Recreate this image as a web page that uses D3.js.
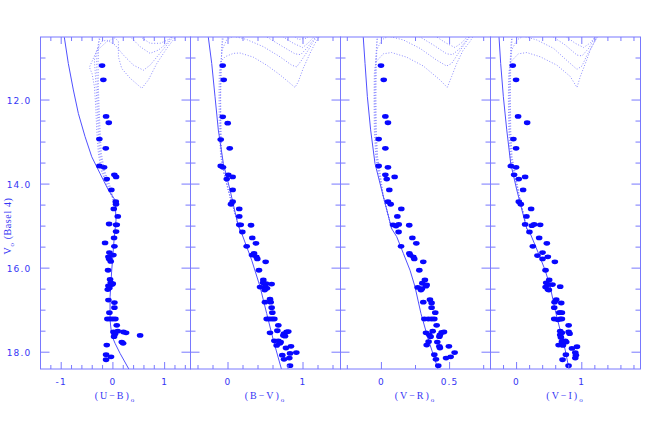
<!DOCTYPE html>
<html>
<head>
<meta charset="utf-8">
<script src="https://cdn.jsdelivr.net/npm/d3@7"></script>
<style>
  body { margin: 0; background: #fff; }
</style>
</head>
<body>
<div class="canva"></div>
<script>
// V magnitude axis, shared by all four panels
const vDomain = [10.5, 18.4];
const vLabels = [12, 14, 16, 18];

// colour index axes, one per panel
const colorNames = ["U\u2212B", "B\u2212V", "V\u2212R", "V\u2212I"];
const colorDomains = [[-1.4, 1.5], [-0.5, 1.5], [-0.3, 0.8], [-0.4, 1.9]];
const colorLabels = [[-1, 0, 1], [0, 1], [0, 0.5], [0, 1]];
const colorMinor = [0.2, 0.2, 0.25, 0.2];

// stars: [V, colour]
const starsUB = [
  [11.18,-0.21],[11.52,-0.185],[12.39,-0.132],[12.54,-0.08],[12.93,-0.262],[13.15,-0.138],[13.57,-0.262],[13.60,-0.171],
  [13.78,0.028],[13.83,0.061],[13.88,-0.119],[14.14,-0.03],[14.42,0.055],[14.48,0.06],[14.59,0.017],[14.77,0.094],
  [14.95,-0.074],[14.97,0.06],[14.97,0.075],[15.13,0.061],[15.28,0.022],[15.40,-0.152],[15.48,0.029],[15.63,-0.068],
  [15.69,0.01],[15.73,-0.087],[15.78,-0.074],[15.84,-0.042],[16.05,-0.094],[16.27,-0.055],[16.35,-0.042],[16.37,-0.003],
  [16.39,-0.016],[16.42,-0.087],[16.47,-0.068],[16.51,-0.1],[16.76,-0.087],[16.82,0.029],[16.94,0.029],[17.06,-0.068],
  [17.21,-0.107],[17.21,-0.055],[17.21,-0.003],[17.21,0.048],[17.36,0.074],[17.52,0.01],[17.50,0.093],[17.52,0.203],
  [17.54,0.255],[17.63,0.022],[17.57,0.042],[17.60,0.526],[17.76,0.171],[17.79,0.197],[17.83,-0.119],[18.06,-0.132],
  [18.11,-0.036],[18.18,-0.132]
];
const starsBV = [
  [11.18,-0.071],[11.52,-0.057],[12.40,-0.07],[12.55,-0.004],[12.94,-0.097],[13.15,0.023],[13.57,-0.097],[13.60,-0.067],
  [13.78,0.004],[13.83,0.062],[13.88,-0.017],[14.14,0.062],[14.42,0.062],[14.48,0.04],[14.59,0.15],[14.77,0.15],
  [14.97,0.15],[14.97,0.17],[14.98,0.307],[15.14,0.191],[15.28,0.324],[15.41,0.373],[15.48,0.249],[15.65,0.347],
  [15.69,0.32],[15.73,0.378],[15.78,0.391],[15.85,0.502],[16.05,0.413],[16.28,0.471],[16.35,0.467],[16.37,0.507],
  [16.38,0.582],[16.44,0.498],[16.45,0.427],[16.48,0.52],[16.52,0.489],[16.74,0.56],[16.81,0.493],[16.81,0.569],
  [16.94,0.582],[17.06,0.591],[17.21,0.516],[17.21,0.551],[17.21,0.587],[17.21,0.618],[17.36,0.671],[17.49,0.658],
  [17.54,0.56],[17.52,0.782],[17.51,0.804],[17.56,0.747],[17.60,0.738],[17.62,0.76],[17.73,0.618],[17.73,0.671],
  [17.76,0.702],[17.79,0.693],[17.84,0.649],[17.86,0.84],[17.90,0.773],[18.01,0.911],[18.03,0.827],[18.07,0.724],
  [18.14,0.818],[18.17,0.747],[18.32,0.827]
];
const starsVR = [
  [11.18,-0.003],[11.52,0.017],[12.39,0.029],[12.54,0.048],[12.93,-0.02],[13.15,0.029],[13.57,-0.02],[13.60,0.048],
  [13.78,0.029],[13.83,0.097],[13.88,0.039],[14.14,0.058],[14.42,0.048],[14.48,0.068],[14.59,0.146],[14.77,0.117],
  [14.97,0.085],[15.00,0.107],[14.96,0.127],[14.98,0.204],[15.14,0.126],[15.28,0.227],[15.41,0.256],[15.48,0.144],
  [15.65,0.205],[15.69,0.21],[15.73,0.234],[15.78,0.241],[15.85,0.307],[16.05,0.278],[16.28,0.319],[16.36,0.30],
  [16.40,0.332],[16.43,0.327],[16.46,0.266],[16.49,0.297],[16.52,0.29],[16.75,0.356],[16.81,0.307],[16.83,0.368],
  [16.94,0.368],[17.06,0.395],[17.21,0.315],[17.21,0.344],[17.21,0.368],[17.21,0.388],[17.36,0.405],[17.50,0.376],
  [17.54,0.327],[17.59,0.351],[17.63,0.361],[17.53,0.442],[17.52,0.459],[17.59,0.429],[17.63,0.425],[17.75,0.346],
  [17.83,0.332],[17.76,0.41],[17.86,0.425],[17.90,0.429],[17.86,0.495],[18.01,0.537],[18.11,0.508],[18.14,0.474],
  [18.06,0.388],[18.17,0.40],[18.32,0.417]
];
const starsVI = [
  [11.18,-0.059],[11.52,-0.008],[12.39,0.023],[12.54,0.162],[12.93,-0.049],[13.15,-0.008],[13.57,-0.09],[13.60,-0.008],
  [13.78,-0.038],[13.83,0.131],[13.88,0.034],[14.14,0.10],[14.42,0.034],[14.48,0.065],[14.59,0.223],[14.77,0.151],
  [14.96,0.131],[14.99,0.234],[14.96,0.269],[14.97,0.362],[15.14,0.197],[15.28,0.346],[15.41,0.464],[15.48,0.249],
  [15.63,0.398],[15.70,0.32],[15.73,0.479],[15.78,0.398],[15.85,0.587],[16.05,0.444],[16.28,0.50],[16.35,0.454],
  [16.39,0.551],[16.39,0.495],[16.44,0.669],[16.45,0.444],[16.51,0.48],[16.52,0.495],[16.75,0.608],[16.81,0.582],
  [16.83,0.685],[16.94,0.577],[17.06,0.654],[17.06,0.695],[17.06,0.669],[17.21,0.577],[17.23,0.633],[17.21,0.669],
  [17.21,0.695],[17.36,0.798],[17.50,0.669],[17.52,0.798],[17.56,0.813],[17.54,0.695],[17.59,0.669],[17.65,0.68],
  [17.73,0.746],[17.76,0.762],[17.75,0.695],[17.83,0.644],[17.84,0.71],[17.87,0.926],[17.91,0.849],[18.01,0.90],
  [18.06,0.756],[18.07,0.91],[18.14,0.90],[18.18,0.705],[18.32,0.797]
];

// solid sequence line: [V, colour]
const zamsUB = [[10.4,-0.97],[10.51,-0.939],[11.13,-0.862],[11.76,-0.765],[12.32,-0.668],[12.87,-0.539],[13.35,-0.409],
  [13.75,-0.248],[14.14,-0.088],[14.38,0.042],[14.86,0.06],[15.33,0.022],[16.05,-0.023],[16.68,-0.055],[17.24,-0.055],
  [17.6,-0.023],[17.79,0.042],[18.03,0.139],[18.45,0.33]];
const zamsBV = [[10.4,-0.27],[10.51,-0.262],[11.13,-0.217],[11.92,-0.173],[12.71,-0.129],[13.51,-0.062],[14.14,0.027],
  [15.0,0.137],[15.17,0.182],[15.81,0.316],[16.44,0.427],[17.08,0.516],[17.71,0.604],[18.45,0.72]];
const zamsVR = [[10.4,-0.136],[10.51,-0.133],[11.13,-0.12],[11.92,-0.103],[12.71,-0.079],[13.51,-0.047],[14.14,0.002],
  [15.06,0.075],[15.25,0.112],[15.65,0.161],[16.05,0.21],[16.44,0.246],[17.08,0.29],[17.71,0.345],[18.45,0.42]];
const zamsVI = [[10.4,-0.275],[10.51,-0.269],[11.13,-0.244],[11.92,-0.203],[12.71,-0.151],[13.51,-0.09],[14.14,0.003],
  [15.06,0.156],[15.17,0.208],[15.65,0.336],[16.05,0.438],[16.44,0.515],[17.0,0.592],[17.48,0.669],[17.95,0.746],[18.45,0.81]];

// dotted isochrones: [V, colour]
const isoUB = [
  [[14.38,0.01],[14.06,-0.107],[13.67,-0.229],[13.27,-0.281],[12.71,-0.313],[12.16,-0.332],[11.68,-0.358],[11.37,-0.403],
   [11.22,-0.455],[10.83,-0.313],[10.61,-0.119],[10.52,0.042],[10.61,0.106],[10.97,0.106],[11.25,0.171],[11.48,0.332],
   [11.72,0.558],[11.52,0.687],[11.13,0.848],[10.77,1.042],[10.51,1.203],[10.37,1.268]],
  [[14.38,0.01],[14.06,-0.087],[13.67,-0.21],[13.27,-0.261],[12.71,-0.287],[12.16,-0.307],[11.68,-0.326],[11.29,-0.345],
   [11.05,-0.358],[10.81,-0.313],[10.61,-0.216],[10.57,-0.119],[10.69,0.042],[10.93,0.203],[11.17,0.397],[11.29,0.59],
   [11.17,0.719],[10.93,0.881],[10.69,1.042],[10.49,1.171]],
  [[14.38,0.01],[14.06,-0.068],[13.67,-0.184],[13.27,-0.242],[12.71,-0.268],[12.16,-0.287],[11.68,-0.30],[11.29,-0.313],
   [10.97,-0.313],[10.65,-0.281],[10.41,-0.216],[10.02,-0.119],[10.02,0.203],[10.49,0.332],[10.73,0.526],[10.89,0.719],
   [10.81,0.881],[10.65,1.042],[10.45,1.171]],
  [[14.38,0.01],[14.06,-0.049],[13.67,-0.165],[13.27,-0.223],[12.71,-0.249],[12.16,-0.268],[11.68,-0.281],[11.13,-0.287],
   [10.65,-0.274],[10.33,-0.249],[9.86,-0.184],[9.86,0.332],[10.49,0.526],[10.65,0.719],[10.65,0.913],[10.56,1.074],[10.41,1.203]]
];
const isoBV = [
  [[15.1,0.16],[14.30,0.027],[13.73,-0.053],[13.34,-0.098],[12.71,-0.116],[11.92,-0.12],[11.37,-0.116],[11.09,-0.098],
   [10.97,-0.04],[10.89,0.071],[10.88,0.16],[10.98,0.338],[11.17,0.516],[11.40,0.693],[11.60,0.827],[11.70,0.893],
   [11.56,0.938],[11.24,1.004],[10.89,1.093],[10.65,1.16],[10.49,1.218],[10.3,1.28]],
  [[15.1,0.16],[14.30,0.027],[13.75,-0.053],[13.35,-0.093],[12.71,-0.102],[11.92,-0.107],[11.29,-0.102],[10.81,-0.08],
   [10.57,-0.018],[10.48,0.071],[10.56,0.249],[10.73,0.471],[10.97,0.693],[11.17,0.849],[11.21,0.916],[11.05,0.982],
   [10.81,1.071],[10.61,1.138],[10.48,1.191]],
  [[15.1,0.16],[14.30,0.027],[13.75,-0.053],[13.35,-0.089],[12.71,-0.098],[11.92,-0.102],[11.13,-0.093],[10.65,-0.076],
   [10.33,-0.044],[9.86,0.027],[10.02,0.293],[10.45,0.471],[10.69,0.693],[10.90,0.893],[10.92,0.969],[10.77,1.049],
   [10.57,1.138],[10.41,1.204]],
  [[15.1,0.16],[14.30,0.027],[13.75,-0.05],[13.35,-0.084],[12.71,-0.093],[11.92,-0.098],[11.13,-0.089],[10.65,-0.08],
   [10.33,-0.071],[9.86,-0.04],[9.86,0.471],[10.45,0.693],[10.65,0.871],[10.75,0.996],[10.64,1.071],[10.51,1.138],[10.37,1.191]],
  [[10.1,0.693],[10.41,0.827],[10.56,0.938],[10.53,1.04],[10.43,1.116],[10.25,1.16]]
];
const isoVR = [
  [[15.06,0.075],[14.3,0.014],[13.75,-0.023],[13.35,-0.042],[12.71,-0.052],[11.92,-0.054],[11.37,-0.052],[11.09,-0.04],
   [10.9,0.014],[10.87,0.075],[10.98,0.185],[11.19,0.307],[11.52,0.429],[11.70,0.483],[11.44,0.515],[11.13,0.552],
   [10.81,0.60],[10.61,0.649],[10.45,0.679]],
  [[15.06,0.075],[14.3,0.014],[13.75,-0.018],[13.35,-0.037],[12.71,-0.047],[11.92,-0.05],[11.29,-0.047],[10.81,-0.035],
   [10.57,0.002],[10.48,0.05],[10.57,0.161],[10.77,0.283],[11.05,0.405],[11.19,0.478],[11.13,0.515],[10.89,0.564],
   [10.65,0.613],[10.49,0.649]],
  [[15.06,0.075],[14.3,0.014],[13.75,-0.013],[13.35,-0.032],[12.71,-0.042],[11.92,-0.045],[11.13,-0.042],[10.65,-0.035],
   [10.33,-0.023],[9.86,0.014],[10.02,0.185],[10.45,0.258],[10.69,0.381],[10.90,0.478],[10.92,0.522],[10.77,0.576],
   [10.57,0.625],[10.41,0.662]],
  [[15.06,0.075],[14.3,0.014],[13.75,-0.008],[13.35,-0.028],[12.71,-0.037],[11.92,-0.04],[11.13,-0.037],[10.65,-0.032],
   [10.33,-0.028],[9.86,-0.01],[9.86,0.258],[10.45,0.381],[10.65,0.478],[10.75,0.539],[10.64,0.588],[10.51,0.625],[10.37,0.662]]
];
const isoVI = [
  [[15.06,0.156],[14.3,0.044],[13.75,-0.049],[13.35,-0.10],[12.71,-0.12],[11.92,-0.126],[11.37,-0.12],[11.09,-0.09],
   [10.9,0.028],[10.87,0.156],[10.97,0.362],[11.17,0.618],[11.44,0.823],[11.70,0.926],[11.44,0.977],[11.13,1.054],
   [10.81,1.131],[10.57,1.208],[10.45,1.259]],
  [[15.06,0.156],[14.3,0.044],[13.75,-0.038],[13.35,-0.09],[12.71,-0.11],[11.92,-0.115],[11.29,-0.11],[10.81,-0.074],
   [10.57,0.003],[10.48,0.105],[10.57,0.31],[10.77,0.567],[11.06,0.772],[11.27,0.926],[11.19,1.003],[10.93,1.08],
   [10.65,1.182],[10.49,1.244]],
  [[15.06,0.156],[14.3,0.044],[13.75,-0.028],[13.35,-0.079],[12.71,-0.10],[11.92,-0.105],[11.13,-0.10],[10.65,-0.085],
   [10.33,-0.059],[9.86,0.003],[10.02,0.362],[10.45,0.515],[10.69,0.746],[10.93,0.926],[10.95,1.003],[10.77,1.105],
   [10.57,1.182],[10.41,1.233]],
  [[15.06,0.156],[14.3,0.044],[13.75,-0.018],[13.35,-0.069],[12.71,-0.09],[11.92,-0.095],[11.13,-0.09],[10.65,-0.074],
   [10.33,-0.059],[9.86,-0.023],[9.86,0.464],[10.45,0.721],[10.65,0.90],[10.75,1.028],[10.64,1.131],[10.49,1.208],[10.37,1.259]]
];

const panels = [
  {stars: starsUB, zams: zamsUB, iso: isoUB},
  {stars: starsBV, zams: zamsBV, iso: isoBV},
  {stars: starsVR, zams: zamsVR, iso: isoVR},
  {stars: starsVI, zams: zamsVI, iso: isoVI}
];

// layout
const margin = {top: 37, left: 40.5};
const panelW = 150, panelH = 332;
const axisColor = "#7878ff", textColor = "#3535f5";

const svg = d3.select(".canva").append("svg")
    .attr("width", 654)
    .attr("height", 436)
    .style("background", "#fff");

var y = d3.scaleLinear()
    .domain(vDomain)
    .range([margin.top, margin.top + panelH]);

panels.forEach((p, i) => {
  const x0 = margin.left + i * panelW;
  var x = d3.scaleLinear()
      .domain(colorDomains[i])
      .range([x0, x0 + panelW]);

  svg.append("clipPath").attr("id", "clip" + i)
    .append("rect")
      .attr("x", x0).attr("y", margin.top)
      .attr("width", panelW).attr("height", panelH);

  const plot = svg.append("g").attr("clip-path", `url(#clip${i})`);
  var line = d3.line().x(d => x(d[1])).y(d => y(d[0]));

  // dotted isochrones
  p.iso.forEach(iso => {
    plot.append("path")
      .attr("d", line(iso))
      .attr("fill", "none")
      .attr("stroke", "#8c8cff")
      .attr("stroke-width", 1)
      .attr("stroke-dasharray", "1,1.8");
  });

  // solid line
  plot.append("path")
    .attr("d", line(p.zams))
    .attr("fill", "none")
    .attr("stroke", "#5050ff")
    .attr("stroke-width", 1);

  // stars
  plot.selectAll(".star")
    .data(p.stars)
    .enter()
    .append("ellipse")
      .attr("class", "star")
      .attr("cx", d => x(d[1]))
      .attr("cy", d => y(d[0]))
      .attr("rx", 3.3)
      .attr("ry", 2.4)
      .attr("fill", "#0808ff");

  // frame
  svg.append("rect")
    .attr("x", x0).attr("y", margin.top)
    .attr("width", panelW).attr("height", panelH)
    .attr("fill", "none")
    .attr("stroke", axisColor)
    .attr("stroke-width", 1);

  const ticks = svg.append("g").attr("stroke", axisColor).attr("stroke-width", 1);

  // V ticks on both sides of each panel
  d3.range(11, vDomain[1], 0.5).forEach(v => {
    const len = v % 2 === 0 ? 9 : 5;
    ticks.append("line").attr("x1", x0).attr("x2", x0 + len).attr("y1", y(v)).attr("y2", y(v));
    ticks.append("line").attr("x1", x0 + panelW - len).attr("x2", x0 + panelW).attr("y1", y(v)).attr("y2", y(v));
  });

  // colour ticks top and bottom
  const step = colorMinor[i];
  const lo = colorDomains[i][0], hi = colorDomains[i][1];
  d3.range(Math.ceil(lo / step - 1e-6), Math.floor(hi / step + 1e-6) + 1)
    .map(k => +(k * step).toFixed(3))
    .forEach(c => {
      const len = colorLabels[i].includes(c) ? 7 : 4;
      const yb = margin.top + panelH;
      ticks.append("line").attr("x1", x(c)).attr("x2", x(c)).attr("y1", yb).attr("y2", yb - len);
      ticks.append("line").attr("x1", x(c)).attr("x2", x(c)).attr("y1", margin.top).attr("y2", margin.top + len);
    });

  // tick labels under the panel
  svg.append("g").selectAll("text")
    .data(colorLabels[i])
    .enter()
    .append("text")
      .attr("x", d => x(d))
      .attr("y", margin.top + panelH + 16)
      .attr("text-anchor", "middle")
      .style("font-family", "DejaVu Sans")
      .style("font-size", "9px")
      .style("letter-spacing", "1.2px")
      .attr("fill", textColor)
      .text(d => String(d));

  // axis title, e.g. (U-B)o
  const title = svg.append("text")
    .attr("x", x0 + panelW / 2)
    .attr("y", margin.top + panelH + 30)
    .attr("text-anchor", "middle")
    .style("font-family", "Liberation Serif")
    .style("font-size", "10px")
    .style("letter-spacing", "2px")
    .attr("fill", textColor);
  title.append("tspan").text("(" + colorNames[i] + ")");
  title.append("tspan").attr("dy", 3).style("font-size", "7px").text("o");
});

// V labels on the left
svg.append("g").selectAll("text")
  .data(vLabels)
  .enter()
  .append("text")
    .attr("x", margin.left - 9)
    .attr("y", d => y(d) + 3.5)
    .attr("text-anchor", "end")
    .style("font-family", "DejaVu Sans")
    .style("font-size", "9px")
    .style("letter-spacing", "1.2px")
    .attr("fill", textColor)
    .text(d => d3.format(".1f")(d));

// vertical axis title
const ytitle = svg.append("text")
  .attr("transform", "translate(11, 226) rotate(-90)")
  .attr("text-anchor", "middle")
  .style("font-family", "Liberation Serif")
  .style("font-size", "10px")
  .style("letter-spacing", "0.6px")
  .attr("fill", textColor);
ytitle.append("tspan").text("V");
ytitle.append("tspan").attr("dy", 3).style("font-size", "7px").text("o");
ytitle.append("tspan").attr("dy", -3).text(" (Basel 4)");
</script>
</body>
</html>
